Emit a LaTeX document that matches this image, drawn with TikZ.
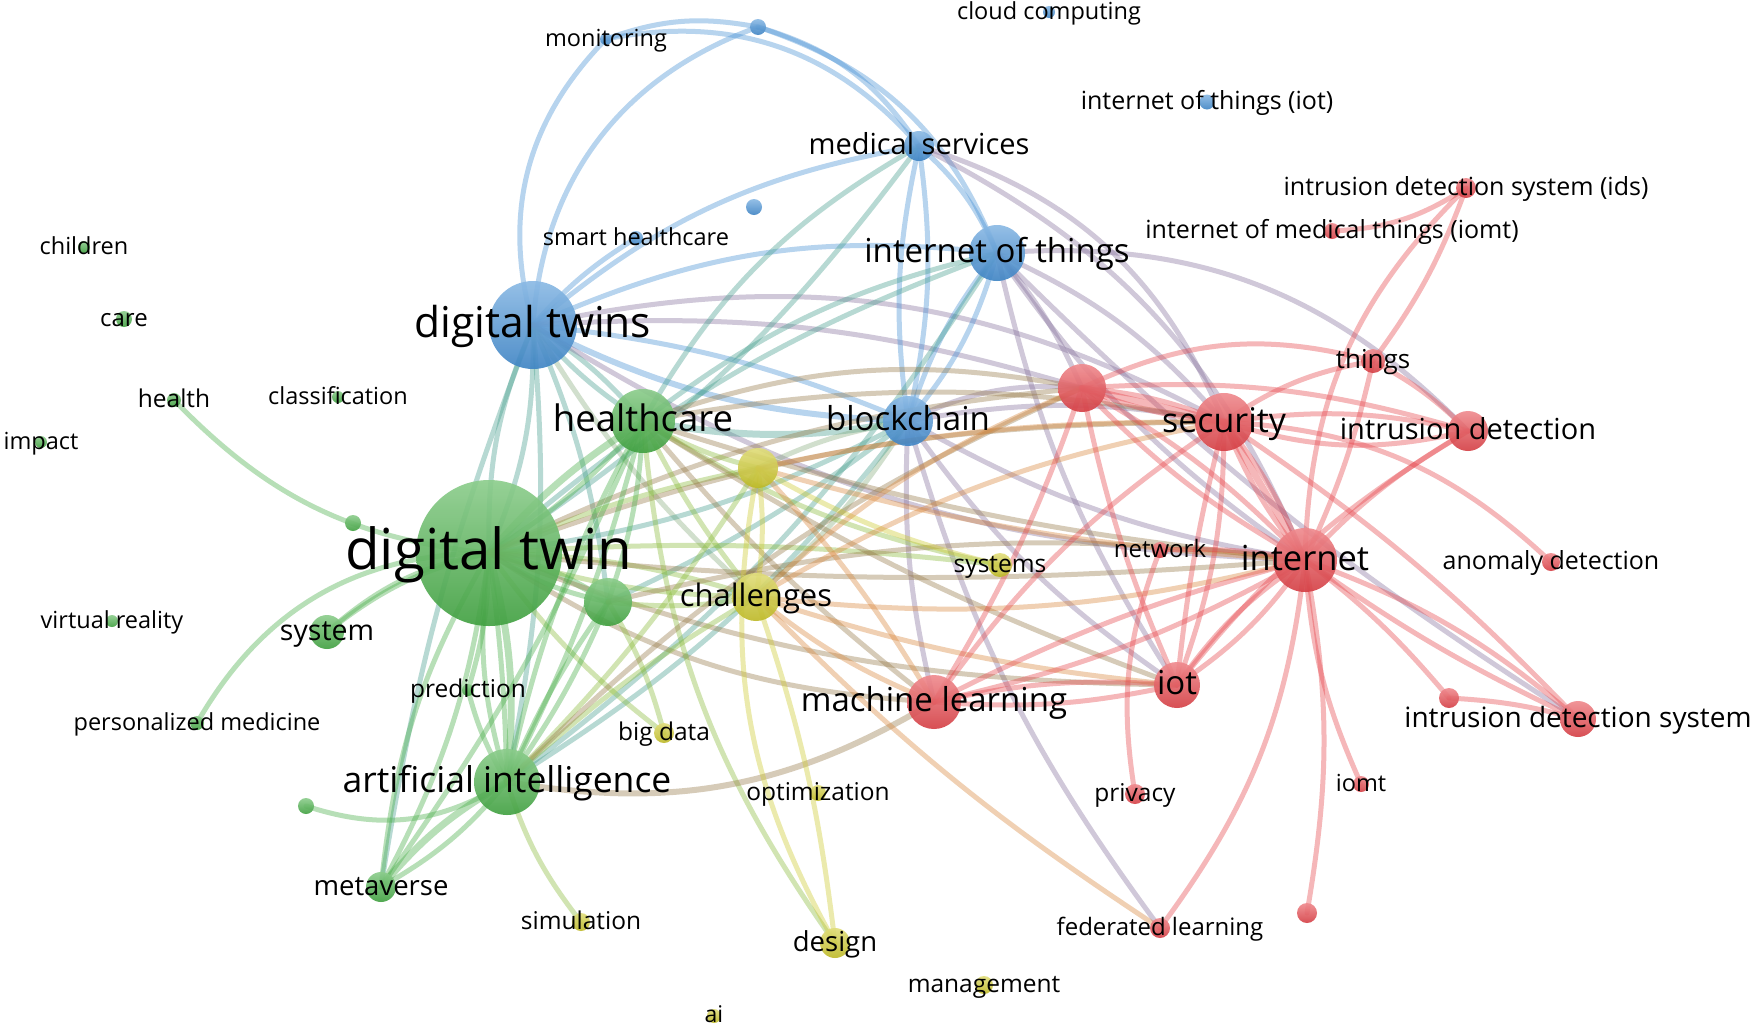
\documentclass[tikz,border=0pt]{standalone}
\usepackage{fontspec}
\setmainfont{Open Sans}
\usetikzlibrary{backgrounds}
\definecolor{cB}{RGB}{66,142,212}
\definecolor{cG}{RGB}{68,173,68}
\definecolor{cY}{RGB}{205,200,40}
\definecolor{cR}{RGB}{230,66,72}
\colorlet{BG}{cB!50!cG}
\colorlet{BR}{cB!60!cR}
\colorlet{BY}{cB!50!cY}
\colorlet{GY}{cG!50!cY}
\colorlet{GR}{cG!50!cR}
\colorlet{YR}{cY!50!cR}
\newcommand\ed[4]{\draw[edge,draw=#1] (#2.center) to[bend left=#4] (#3.center);}
\newcommand\edw[5]{\draw[edge,line width=#1pt,draw=#2] (#3.center) to[bend left=#5] (#4.center);}
\begin{document}
\begin{tikzpicture}[x=1pt,y=1pt,
  bub/.style n args={2}{circle,inner sep=0pt,minimum size=#2pt,top color=#1!62!white,bottom color=#1!92!black,opacity=.9},
  bB/.style={bub={cB}{#1}}, bG/.style={bub={cG}{#1}}, bY/.style={bub={cY}{#1}}, bR/.style={bub={cR}{#1}},
  lab/.style={font=\fontsize{#1}{#1}\selectfont,anchor=base,yshift={-0.3*#1},inner sep=0pt,text=black},
  edge/.style={line width=5pt,draw opacity=.38,line cap=round}]
\useasboundingbox (0,0) rectangle (1755,-1029);
% ---------- nodes ----------
% blue
\node[bB=12] (monitoring) at (606,-39) {};
\node[bB=16] (btop) at (758,-27) {};
\node[bB=12] (cloud) at (1049,-12) {};
\node[bB=15] (iotp) at (1207,-102) {};
\node[bB=30] (medserv) at (919,-146) {};
\node[bB=16] (bmid) at (754,-207) {};
\node[bB=14] (smarth) at (636,-238) {};
\node[bB=56] (iotbig) at (997,-253) {};
\node[bB=88] (dts) at (533,-325) {};
\node[bB=50] (blockchain) at (908,-421) {};
% green
\node[bG=12] (children) at (84,-247) {};
\node[bG=16] (care) at (124,-319) {};
\node[bG=14] (health) at (174,-400) {};
\node[bG=12] (classif) at (338,-397) {};
\node[bG=12] (impact) at (41,-442) {};
\node[bG=64] (healthcare) at (643,-421) {};
\node[bG=146] (dtwin) at (489,-553) {};
\node[bG=16] (gsmall1) at (353,-523) {};
\node[bG=48] (gmid) at (608,-602) {};
\node[bG=34] (system) at (327,-632) {};
\node[bG=12] (vr) at (112,-621) {};
\node[bG=12] (prediction) at (468,-690) {};
\node[bG=14] (pmed) at (197,-723) {};
\node[bG=66] (ai) at (507,-782) {};
\node[bG=16] (gsmall2) at (306,-806) {};
\node[bG=30] (metaverse) at (381,-887) {};
% yellow
\node[bY=40] (ytop) at (758,-468) {};
\node[bY=48] (challenges) at (756,-597) {};
\node[bY=24] (systems) at (1000,-565) {};
\node[bY=20] (bigdata) at (664,-733) {};
\node[bY=16] (optim) at (818,-793) {};
\node[bY=18] (simul) at (581,-922) {};
\node[bY=30] (design) at (835,-943) {};
\node[bY=18] (mgmt) at (984,-985) {};
\node[bY=14] (aiy) at (714,-1016) {};
% red
\node[bR=48] (rtop) at (1082,-388) {};
\node[bR=58] (security) at (1224,-422) {};
\node[bR=24] (things) at (1373,-361) {};
\node[bR=20] (ids) at (1466,-188) {};
\node[bR=16] (iomtp) at (1332,-231) {};
\node[bR=40] (intrdet) at (1468,-431) {};
\node[bR=64] (internet) at (1305,-560) {};
\node[bR=16] (network) at (1160,-550) {};
\node[bR=18] (anomaly) at (1551,-562) {};
\node[bR=46] (iot) at (1177,-685) {};
\node[bR=54] (ml) at (934,-702) {};
\node[bR=20] (rsmall) at (1449,-698) {};
\node[bR=36] (ids2) at (1578,-719) {};
\node[bR=20] (privacy) at (1135,-794) {};
\node[bR=16] (iomt) at (1361,-784) {};
\node[bR=20] (fedl) at (1160,-928) {};
\node[bR=20] (rsmall2) at (1307,-913) {};
% ---------- edges ----------
\begin{pgfonlayer}{background}
\fill[white] (0,0) rectangle (1755,-1029);
% blue
\ed{cB}{dts}{monitoring}{30}
\ed{cB}{dts}{btop}{33}
\ed{cB}{monitoring}{btop}{15}
\ed{cB}{monitoring}{medserv}{30}
\ed{cB}{btop}{medserv}{20}
\ed{cB}{btop}{iotbig}{25}
\ed{cB}{dts}{smarth}{8}
\ed{cB}{medserv}{dts}{-15}
\ed{cB}{iotbig}{dts}{-15}
\edw{6}{cB}{dts}{blockchain}{-12}
\ed{cB}{dts}{blockchain}{8}
\ed{BG}{dts}{healthcare}{8}
\ed{BG}{dts}{healthcare}{-8}
\ed{BG}{dts}{dtwin}{12}
\ed{BG}{dts}{dtwin}{-12}
\ed{BG}{dts}{ai}{8}
\ed{BG}{dts}{metaverse}{-6}
\ed{BG}{dts}{gmid}{8}
\ed{BY}{dts}{challenges}{-8}
\ed{BR}{dts}{internet}{-15}
\ed{BR}{dts}{rtop}{10}
\ed{BR}{dts}{security}{20}
\ed{cB}{medserv}{iotbig}{12}
\ed{cB}{medserv}{blockchain}{10}
\ed{cB}{medserv}{blockchain}{-10}
\ed{BG}{medserv}{healthcare}{-15}
\ed{BG}{medserv}{dtwin}{10}
\ed{BR}{medserv}{security}{25}
\ed{BR}{medserv}{internet}{20}
\ed{cB}{iotbig}{blockchain}{12}
\ed{cB}{iotbig}{blockchain}{-10}
\ed{BG}{iotbig}{healthcare}{-12}
\ed{BG}{iotbig}{dtwin}{-10}
\ed{BG}{iotbig}{ai}{10}
\ed{BR}{iotbig}{rtop}{8}
\ed{BR}{iotbig}{security}{12}
\ed{BR}{iotbig}{internet}{-10}
\ed{BR}{iotbig}{intrdet}{25}
\ed{BR}{iotbig}{iot}{-10}
\ed{BR}{iotbig}{ids2}{-6}
\edw{7}{BG}{blockchain}{healthcare}{10}
\ed{BG}{blockchain}{dtwin}{10}
\ed{BY}{blockchain}{ytop}{-8}
\ed{BY}{blockchain}{challenges}{8}
\ed{BG}{blockchain}{gmid}{6}
\ed{BG}{blockchain}{ai}{10}
\ed{BR}{blockchain}{rtop}{15}
\ed{BR}{blockchain}{security}{10}
\ed{BR}{blockchain}{internet}{-10}
\ed{BR}{blockchain}{ml}{-8}
\ed{BR}{blockchain}{iot}{-10}
\ed{BR}{blockchain}{fedl}{-10}
% green
\edw{7}{cG}{dtwin}{healthcare}{8}
\ed{cG}{dtwin}{healthcare}{-8}
\edw{7}{cG}{dtwin}{gmid}{10}
\ed{cG}{dtwin}{gmid}{-10}
\edw{7}{cG}{dtwin}{ai}{10}
\ed{cG}{dtwin}{ai}{-12}
\ed{cG}{dtwin}{ai}{3}
\ed{cG}{dtwin}{metaverse}{10}
\ed{cG}{dtwin}{metaverse}{-12}
\ed{cG}{dtwin}{system}{-12}
\ed{cG}{health}{dtwin}{-20}
\ed{cG}{pmed}{dtwin}{30}
\ed{cG}{system}{dtwin}{15}
\ed{cG}{dtwin}{prediction}{8}
\ed{GY}{dtwin}{ytop}{6}
\ed{GY}{dtwin}{challenges}{8}
\ed{GY}{dtwin}{challenges}{-8}
\ed{GY}{dtwin}{bigdata}{-8}
\ed{GY}{dtwin}{systems}{5}
\ed{GR}{dtwin}{rtop}{10}
\ed{GR}{dtwin}{security}{10}
\ed{GR}{dtwin}{internet}{-5}
\ed{GR}{dtwin}{ml}{-15}
\ed{GR}{dtwin}{iot}{-10}
\ed{cG}{healthcare}{gmid}{8}
\ed{cG}{healthcare}{ai}{6}
\ed{cG}{healthcare}{ai}{-8}
\ed{cG}{healthcare}{metaverse}{6}
\ed{GY}{healthcare}{ytop}{-8}
\ed{GY}{healthcare}{challenges}{-6}
\ed{GY}{healthcare}{systems}{-10}
\ed{GY}{healthcare}{design}{-15}
\ed{GR}{healthcare}{rtop}{15}
\ed{GR}{healthcare}{security}{10}
\ed{GR}{healthcare}{internet}{-6}
\ed{GR}{healthcare}{ml}{-6}
\ed{GR}{healthcare}{iot}{-6}
\ed{cG}{gmid}{ai}{6}
\ed{cG}{gmid}{ai}{-6}
\ed{GY}{gmid}{challenges}{-8}
\ed{GY}{gmid}{bigdata}{8}
\ed{GR}{gmid}{internet}{10}
\ed{cG}{ai}{metaverse}{10}
\edw{7}{cG}{ai}{metaverse}{-10}
\ed{cG}{ai}{gsmall2}{25}
\ed{cG}{ai}{prediction}{8}
\ed{GY}{ai}{simul}{-10}
\edw{6}{GR}{ai}{ml}{-20}
\ed{GY}{ai}{challenges}{6}
\ed{GY}{ai}{ytop}{-6}
\ed{GR}{ai}{rtop}{10}
% yellow
\ed{cY}{ytop}{challenges}{8}
\ed{cY}{ytop}{design}{-20}
\ed{YR}{ytop}{ml}{6}
\ed{YR}{ytop}{security}{6}
\ed{YR}{ytop}{internet}{-6}
\ed{cY}{ytop}{systems}{-8}
\ed{cY}{challenges}{design}{6}
\ed{YR}{challenges}{ml}{-8}
\ed{YR}{challenges}{rtop}{10}
\ed{YR}{challenges}{security}{10}
\ed{YR}{challenges}{internet}{-10}
\ed{YR}{challenges}{iot}{-6}
\ed{YR}{challenges}{fedl}{-6}
% red
\ed{cR}{rtop}{security}{8}
\edw{7}{cR}{rtop}{security}{0}
\ed{cR}{rtop}{security}{-8}
\ed{cR}{rtop}{internet}{8}
\ed{cR}{rtop}{internet}{-8}
\ed{cR}{rtop}{things}{20}
\ed{cR}{rtop}{intrdet}{10}
\ed{cR}{rtop}{iot}{-6}
\ed{cR}{rtop}{ml}{6}
\ed{cR}{privacy}{network}{15}
\ed{cR}{security}{internet}{8}
\edw{7}{cR}{security}{internet}{0}
\ed{cR}{security}{internet}{-8}
\ed{cR}{security}{things}{12}
\ed{cR}{security}{intrdet}{10}
\ed{cR}{security}{intrdet}{-15}
\ed{cR}{security}{iot}{-4}
\ed{cR}{security}{iot}{10}
\ed{cR}{security}{ml}{-10}
\ed{cR}{security}{anomaly}{20}
\ed{cR}{security}{ids2}{6}
\ed{cR}{internet}{intrdet}{8}
\ed{cR}{internet}{things}{-6}
\ed{cR}{internet}{ids}{22}
\ed{cR}{internet}{iot}{10}
\ed{cR}{internet}{iot}{-10}
\ed{cR}{internet}{ml}{8}
\ed{cR}{internet}{ml}{-6}
\ed{cR}{internet}{network}{-6}
\ed{cR}{internet}{fedl}{15}
\ed{cR}{internet}{rsmall2}{10}
\ed{cR}{internet}{iomt}{-10}
\ed{cR}{internet}{rsmall}{6}
\ed{cR}{internet}{ids2}{10}
\ed{cR}{internet}{ids2}{-5}
\ed{cR}{intrdet}{things}{-8}
\ed{cR}{intrdet}{iot}{-10}
\ed{cR}{ids}{things}{8}
\ed{cR}{iomtp}{ids}{-15}
\ed{cR}{iot}{ml}{8}
\ed{cR}{iot}{ml}{-8}
\ed{cR}{rsmall}{ids2}{6}
\end{pgfonlayer}
% ---------- labels ----------
\node[lab=23.5] (l-monitoring) at (monitoring) {monitoring};
\node[lab=23.5] (l-cloud) at (cloud) {cloud computing};
\node[lab=25] (l-iotp) at (iotp) {internet of things (iot)};
\node[lab=29] (l-medserv) at (medserv) {medical services};
\node[lab=23.5] (l-smarth) at (smarth) {smart healthcare};
\node[lab=33] (l-iotbig) at (iotbig) {internet of things};
\node[lab=42.5] (l-dts) at (dts) {digital twins};
\node[lab=33] (l-blockchain) at (blockchain) {blockchain};
\node[lab=23.5] (l-children) at (children) {children};
\node[lab=24] (l-care) at (care) {care};
\node[lab=24.5] (l-health) at (health) {health};
\node[lab=23.5] (l-classif) at (classif) {classification};
\node[lab=23.5] (l-impact) at (impact) {impact};
\node[lab=36.5] (l-healthcare) at (healthcare) {healthcare};
\node[lab=56.5] (l-dtwin) at (dtwin) {digital twin};
\node[lab=28.5] (l-system) at (system) {system};
\node[lab=23.5] (l-vr) at (vr) {virtual reality};
\node[lab=24.5] (l-prediction) at (prediction) {prediction};
\node[lab=23.5] (l-pmed) at (pmed) {personalized medicine};
\node[lab=35.5] (l-ai) at (ai) {artificial intelligence};
\node[lab=27.5] (l-metaverse) at (metaverse) {metaverse};
\node[lab=31] (l-challenges) at (challenges) {challenges};
\node[lab=24.5] (l-systems) at (systems) {systems};
\node[lab=24.5] (l-bigdata) at (bigdata) {big data};
\node[lab=24.5] (l-optim) at (optim) {optimization};
\node[lab=24.5] (l-simul) at (simul) {simulation};
\node[lab=27.5] (l-design) at (design) {design};
\node[lab=24.5] (l-mgmt) at (mgmt) {management};
\node[lab=23] (l-aiy) at (aiy) {ai};
\node[lab=34] (l-security) at (security) {security};
\node[lab=26] (l-things) at (things) {things};
\node[lab=25] (l-ids) at (ids) {intrusion detection system (ids)};
\node[lab=25] (l-iomtp) at (iomtp) {internet of medical things (iomt)};
\node[lab=29] (l-intrdet) at (intrdet) {intrusion detection};
\node[lab=34.5] (l-internet) at (internet) {internet};
\node[lab=24] (l-network) at (network) {network};
\node[lab=25] (l-anomaly) at (anomaly) {anomaly detection};
\node[lab=33] (l-iot) at (iot) {iot};
\node[lab=33] (l-ml) at (ml) {machine learning};
\node[lab=28] (l-ids2) at (ids2) {intrusion detection system};
\node[lab=24.5] (l-privacy) at (privacy) {privacy};
\node[lab=23.5] (l-iomt) at (iomt) {iomt};
\node[lab=24] (l-fedl) at (fedl) {federated learning};
\end{tikzpicture}
\end{document}
